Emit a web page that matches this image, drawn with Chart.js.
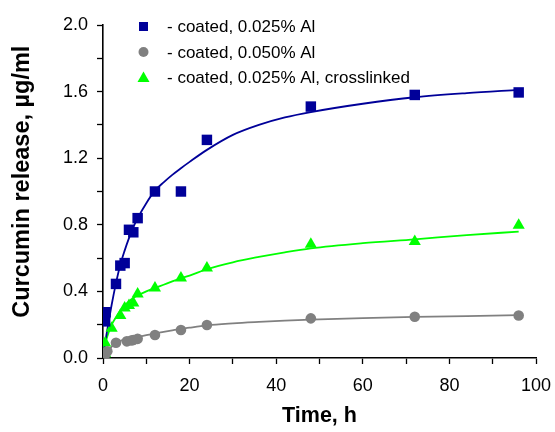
<!DOCTYPE html>
<html><head><meta charset="utf-8">
<script src="https://cdn.jsdelivr.net/npm/chart.js@4"></script>
<style>html,body{margin:0;padding:0;background:#fff}</style>
</head><body>
<canvas id="c" width="555" height="432"></canvas>
<script>
// ---- data ----
const seriesNames = ['- coated, 0.025% Al', '- coated, 0.050% Al', '- coated, 0.025% Al, crosslinked'];

const blueTimes  = [0.5, 0.6, 3, 4, 5, 6, 7, 8, 12, 18, 24, 48, 72, 96];
const blueValues = [0.22, 0.275, 0.445, 0.555, 0.57, 0.77, 0.755, 0.84, 1.0, 1.0, 1.31, 1.51, 1.58, 1.595];

const grayTimes  = [0.5, 1, 3, 5.5, 6.5, 7, 8, 12, 18, 24, 48, 72, 96];
const grayValues = [0.02, 0.04, 0.092, 0.1, 0.105, 0.108, 0.115, 0.138, 0.168, 0.198, 0.238, 0.248, 0.255];

const greenTimes  = [0.5, 0.5, 2, 4, 5, 6, 7, 8, 12, 18, 24, 48, 72, 96];
const greenValues = [0.025, 0.09, 0.178, 0.255, 0.30, 0.315, 0.33, 0.385, 0.42, 0.48, 0.54, 0.683, 0.70, 0.798];

// fitted curves
const fitTimes      = [0, 0.5, 1, 2, 3, 4, 5, 6, 7, 8, 10, 12, 14, 16, 18, 20, 24, 30, 36, 42, 48, 60, 72, 84, 96];
const blueFitValues = [0, 0.09, 0.17, 0.32, 0.45, 0.56, 0.645, 0.72, 0.785, 0.84, 0.93, 1.005, 1.055, 1.10, 1.14, 1.178, 1.25, 1.34, 1.40, 1.445, 1.477, 1.527, 1.566, 1.591, 1.61];
const grayFitValues = [0, 0.01, 0.025, 0.068, 0.09, 0.103, 0.11, 0.116, 0.122, 0.127, 0.137, 0.147, 0.157, 0.166, 0.174, 0.182, 0.196, 0.208, 0.217, 0.225, 0.231, 0.24, 0.247, 0.252, 0.257];
const greenFitValues= [0, 0.08, 0.13, 0.2, 0.245, 0.285, 0.315, 0.34, 0.36, 0.375, 0.40, 0.42, 0.44, 0.46, 0.479, 0.495, 0.533, 0.575, 0.607, 0.635, 0.659, 0.69, 0.713, 0.738, 0.759];

const xTickStep = 10, xLabelStep = 20;
const yTickStep = 0.2, yLabelStep = 0.4;

// ---- styles ----
const BLUE = '#000099', GRAY = '#808080', GREEN = '#00ff00';
const FONT = 'Liberation Sans, Arial, sans-serif';

function pts(xs, ys){ return xs.map((x,i)=>({x:x, y:ys[i]})); }

const legendPlugin = {
  id: 'insideLegend',
  afterDraw(chart){
    const {ctx, chartArea} = chart;
    const items = chart.data.datasets.filter(d => d.showInLegend);
    const mx = chartArea.left + 40.5, tx = chartArea.left + 64, y0 = chartArea.top + 1.5, gap = 25.5;
    ctx.save();
    ctx.font = '17px ' + FONT;
    ctx.textBaseline = 'middle';
    items.forEach((d, i) => {
      const y = y0 + i * gap;
      ctx.fillStyle = d.backgroundColor;
      ctx.beginPath();
      if (d.pointStyle === 'rect') {
        ctx.rect(mx - 4.5, y - 4.5, 9, 9);
      } else if (d.pointStyle === 'circle') {
        ctx.arc(mx, y, 5, 0, Math.PI * 2);
      } else {
        ctx.moveTo(mx, y - 6); ctx.lineTo(mx + 6, y + 4.5); ctx.lineTo(mx - 6, y + 4.5); ctx.closePath();
      }
      ctx.fill();
      ctx.fillStyle = '#000';
      ctx.fillText(d.label, tx, y + 1);
    });
    ctx.restore();
  }
};

const ctx = document.getElementById('c').getContext('2d');
new Chart(ctx, {
  type: 'scatter',
  data: {
    datasets: [
      {label: seriesNames[0], showInLegend: true, data: pts(blueTimes, blueValues), pointStyle: 'rect', pointRadius: 7.4, backgroundColor: BLUE, borderColor: BLUE, borderWidth: 0, order: 0},
      {label: seriesNames[1], showInLegend: true, data: pts(grayTimes, grayValues), pointStyle: 'circle', pointRadius: 5.3, backgroundColor: GRAY, borderColor: GRAY, borderWidth: 0, order: 0},
      {label: seriesNames[2], showInLegend: true, data: pts(greenTimes, greenValues), pointStyle: 'triangle', pointRadius: 7, backgroundColor: GREEN, borderColor: GREEN, borderWidth: 0, order: 0},
      {label: 'fit1', type: 'line', data: pts(fitTimes, blueFitValues), borderColor: BLUE, borderWidth: 1.8, pointRadius: 0, fill: false, cubicInterpolationMode: 'monotone', order: 1},
      {label: 'fit2', type: 'line', data: pts(fitTimes, grayFitValues), borderColor: GRAY, borderWidth: 1.8, pointRadius: 0, fill: false, cubicInterpolationMode: 'monotone', order: 1},
      {label: 'fit3', type: 'line', data: pts(fitTimes, greenFitValues), borderColor: GREEN, borderWidth: 1.8, pointRadius: 0, fill: false, cubicInterpolationMode: 'monotone', order: 1}
    ]
  },
  options: {
    responsive: false,
    animation: false,
    layout: {padding: {top: 25, right: 19, left: 0, bottom: 0}},
    plugins: {legend: {display: false}, tooltip: {enabled: false}},
    scales: {
      x: {
        type: 'linear', min: 0, max: 100, position: 'bottom',
        afterFit(s){ s.height = 74; s.paddingRight = 0; s.paddingLeft = 0; },
        ticks: {stepSize: xTickStep, autoSkip: false, maxRotation: 0, color: '#000', padding: 11,
          font: {family: FONT, size: 18},
          callback: v => (Math.round(v) % xLabelStep === 0 ? String(v) : '')},
        grid: {drawOnChartArea: false, drawTicks: true, tickLength: 6, tickColor: '#000', tickWidth: 1.3},
        border: {display: true, color: '#000', width: 1.6},
        title: {display: true, text: 'Time, h', color: '#000', font: {family: FONT, size: 21.5, weight: 'bold'}, padding: {top: 0, bottom: 3}}
      },
      y: {
        type: 'linear', min: 0, max: 2,
        afterFit(s){ s.width = 103; },
        ticks: {stepSize: yTickStep, autoSkip: false, color: '#000', padding: 9,
          font: {family: FONT, size: 18},
          callback: v => (Math.round(v * 10) % Math.round(yLabelStep * 10) === 0 ? v.toFixed(1) : '')},
        grid: {drawOnChartArea: false, drawTicks: true, tickLength: 6, tickColor: '#000', tickWidth: 1.3},
        border: {display: true, color: '#000', width: 1.6},
        title: {display: true, text: '   Curcumin release, µg/ml', color: '#000', font: {family: FONT, size: 23.5, weight: 'bold'}, padding: {top: 8, bottom: 0}}
      }
    }
  },
  plugins: [legendPlugin]
});
</script>
</body></html>
